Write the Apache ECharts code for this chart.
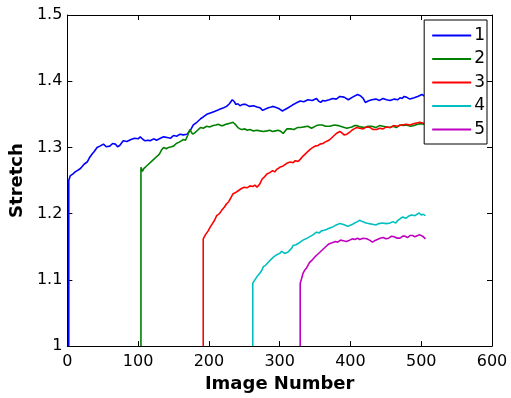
<!DOCTYPE html>
<html>
<head>
<meta charset="utf-8">
<script src="https://cdn.jsdelivr.net/npm/echarts@6/dist/echarts.min.js"></script>
<style>
html,body{margin:0;padding:0;background:#fff;}
#chart{width:511px;height:398px;}
</style>
</head>
<body>
<div id="chart"></div>
<script>
var seriesNames = ['1', '2', '3', '4', '5'];
var seriesColors = ['#0000ff', '#008000', '#ff0000', '#00bfbf', '#bf00bf'];
var xTicks = [0, 100, 200, 300, 400, 500, 600];
var yTicks = [1, 1.1, 1.2, 1.3, 1.4, 1.5];

var s1x = [2,2,4,8,11,14,17,20,24,28,31,35,38,42,46,51,55,60,64,68,71,74,79,84,90,95,100,103,107,110,114,117,122,126,130,136,141,146,150,155,159,164,169,174,178,183,188,192,197,202,207,212,216,221,225,229,233,236,238,241,244,248,252,257,263,268,272,276,280,284,288,291,296,300,304,307,312,318,323,329,334,340,346,352,355,358,361,364,370,375,380,385,391,397,403,410,414,418,421,425,430,436,441,446,451,456,462,467,470,473,476,479,484,490,495,501,505];
var s1y = [1,1.25,1.257,1.26,1.263,1.265,1.267,1.27,1.275,1.278,1.284,1.29,1.294,1.30,1.302,1.305,1.301,1.302,1.306,1.305,1.301,1.303,1.31,1.309,1.312,1.314,1.313,1.316,1.312,1.31,1.311,1.31,1.313,1.311,1.313,1.316,1.315,1.314,1.318,1.317,1.32,1.319,1.32,1.326,1.334,1.338,1.343,1.346,1.35,1.352,1.354,1.356,1.358,1.36,1.362,1.366,1.372,1.369,1.365,1.366,1.363,1.365,1.365,1.362,1.363,1.361,1.36,1.356,1.358,1.36,1.361,1.362,1.36,1.358,1.355,1.357,1.36,1.364,1.367,1.37,1.369,1.372,1.371,1.374,1.37,1.368,1.371,1.37,1.372,1.374,1.373,1.377,1.376,1.372,1.376,1.38,1.378,1.374,1.368,1.37,1.372,1.373,1.371,1.374,1.372,1.371,1.373,1.372,1.375,1.374,1.377,1.376,1.373,1.375,1.377,1.38,1.377];

var s2x = [104,104,106,108,112,115,119,122,126,130,133,136,140,143,147,150,154,158,161,164,167,170,173,175,177,180,184,188,192,197,201,206,210,213,217,220,224,228,231,234,236,238,241,244,247,251,254,258,263,268,272,277,282,286,290,294,298,302,305,307,310,315,320,325,329,334,340,345,352,356,360,365,371,377,383,389,395,399,402,406,409,414,420,425,430,436,441,446,451,456,460,465,470,475,479,485,490,495,500,505];
var s2y = [1,1.27,1.264,1.268,1.272,1.275,1.279,1.282,1.286,1.29,1.296,1.30,1.298,1.30,1.301,1.302,1.306,1.308,1.31,1.312,1.311,1.318,1.327,1.324,1.32,1.322,1.326,1.33,1.329,1.332,1.331,1.333,1.334,1.335,1.333,1.333,1.335,1.336,1.337,1.338,1.336,1.334,1.33,1.328,1.327,1.328,1.326,1.327,1.325,1.326,1.325,1.324,1.325,1.326,1.324,1.325,1.326,1.324,1.321,1.324,1.328,1.328,1.327,1.33,1.33,1.331,1.332,1.329,1.333,1.334,1.334,1.332,1.332,1.334,1.333,1.331,1.329,1.33,1.331,1.333,1.333,1.331,1.33,1.332,1.332,1.33,1.333,1.332,1.331,1.33,1.332,1.33,1.334,1.333,1.334,1.332,1.333,1.335,1.336,1.335];

var s3x = [192,192,195,199,202,205,208,211,215,218,222,225,228,230,234,238,242,246,250,254,258,262,265,268,272,275,279,282,286,290,293,296,300,305,310,315,319,322,326,329,333,336,340,343,347,350,354,357,361,364,368,371,374,377,380,382,385,388,391,395,399,402,405,409,413,418,423,428,432,437,441,446,451,456,461,466,472,479,484,490,494,498,502,505];
var s3y = [1,1.162,1.168,1.174,1.18,1.185,1.19,1.197,1.2,1.205,1.21,1.215,1.218,1.222,1.23,1.232,1.235,1.238,1.24,1.239,1.242,1.241,1.243,1.24,1.245,1.252,1.256,1.26,1.262,1.265,1.263,1.267,1.27,1.272,1.276,1.278,1.277,1.28,1.279,1.282,1.287,1.29,1.294,1.297,1.3,1.302,1.303,1.305,1.306,1.308,1.31,1.312,1.315,1.318,1.321,1.323,1.324,1.322,1.319,1.32,1.323,1.326,1.328,1.33,1.329,1.328,1.331,1.33,1.327,1.327,1.329,1.328,1.331,1.33,1.333,1.332,1.334,1.335,1.334,1.336,1.337,1.338,1.337,1.335];

var s4x = [262,262,265,268,272,275,277,280,282,286,289,292,296,300,303,305,307,309,312,314,317,319,323,326,329,333,337,342,347,352,356,359,363,366,370,375,380,385,389,392,396,399,403,406,410,413,417,422,426,431,436,440,445,451,456,460,464,467,471,474,478,482,486,488,491,493,497,500,503,506];
var s4y = [1,1.095,1.1,1.105,1.11,1.115,1.12,1.122,1.125,1.129,1.132,1.135,1.138,1.14,1.143,1.143,1.14,1.137,1.142,1.145,1.148,1.152,1.153,1.155,1.157,1.16,1.162,1.165,1.168,1.172,1.171,1.174,1.175,1.176,1.178,1.18,1.183,1.185,1.184,1.183,1.181,1.182,1.184,1.186,1.188,1.19,1.188,1.186,1.185,1.184,1.183,1.185,1.186,1.185,1.186,1.188,1.186,1.19,1.193,1.195,1.193,1.196,1.198,1.2,1.197,1.2,1.201,1.198,1.199,1.197];

var s5x = [329,329,331,333,335,338,340,342,345,347,350,353,356,359,362,365,368,371,374,376,379,382,386,390,394,399,403,406,410,413,418,423,427,431,434,438,442,446,450,454,458,462,466,470,474,477,481,484,488,491,495,498,502,506];
var s5y = [1,1.095,1.102,1.11,1.114,1.118,1.122,1.126,1.129,1.132,1.135,1.138,1.141,1.144,1.147,1.15,1.153,1.155,1.156,1.157,1.158,1.157,1.16,1.159,1.158,1.16,1.162,1.161,1.163,1.161,1.163,1.162,1.16,1.157,1.159,1.161,1.163,1.164,1.162,1.163,1.166,1.165,1.163,1.163,1.166,1.166,1.164,1.167,1.167,1.165,1.167,1.168,1.166,1.162];

var allX = [s1x, s2x, s3x, s4x, s5x];
var allY = [s1y, s2y, s3y, s4y, s5y];

function zip(xs, ys) {
  var out = [];
  for (var i = 0; i < xs.length; i++) out.push([xs[i], ys[i]]);
  return out;
}

var FONT = 'DejaVu Sans';
var series = seriesNames.map(function (n, i) {
  return {
    name: n,
    type: 'line',
    data: zip(allX[i], allY[i]),
    symbol: 'none',
    showSymbol: false,
    animation: false,
    lineStyle: { color: seriesColors[i], width: 1.6 },
    itemStyle: { color: seriesColors[i] },
    z: 2
  };
});

var axisBase = {
  type: 'value',
  axisLine: { show: true, onZero: false, lineStyle: { color: '#000', width: 1 } },
  axisTick: { show: true, inside: true, length: 5, lineStyle: { color: '#000', width: 1 } },
  splitLine: { show: false }
};

var chart = echarts.init(document.getElementById('chart'), null, { renderer: 'canvas' });
chart.setOption({
  backgroundColor: '#fff',
  animation: false,
  grid: { left: 67, right: 19, top: 15, bottom: 50, containLabel: false },
  legend: {
    data: seriesNames,
    orient: 'vertical',
    right: 24,
    top: 20,
    icon: 'rect',
    itemWidth: 39,
    itemHeight: 2,
    itemGap: 6.5,
    padding: [7, 2, 6, 8],
    backgroundColor: '#fff',
    borderColor: '#000',
    borderWidth: 1,
    textStyle: { fontFamily: FONT, fontSize: 17, color: '#000', lineHeight: 14, padding: [0, 0, 0, -2] }
  },
  xAxis: [
    Object.assign({}, axisBase, {
      position: 'bottom', min: xTicks[0], max: xTicks[xTicks.length - 1], interval: xTicks[1] - xTicks[0],
      name: 'Image Number', nameLocation: 'middle', nameGap: 27,
      nameTextStyle: { fontFamily: FONT, fontSize: 18, fontWeight: 'bold', color: '#000' },
      axisLabel: { fontFamily: FONT, fontSize: 16, color: '#000', margin: 8 }
    }),
    Object.assign({}, axisBase, {
      position: 'top', min: xTicks[0], max: xTicks[xTicks.length - 1], interval: xTicks[1] - xTicks[0],
      axisLabel: { show: false }
    })
  ],
  yAxis: [
    Object.assign({}, axisBase, {
      position: 'left', min: yTicks[0], max: yTicks[yTicks.length - 1], interval: 0.1,
      name: 'Stretch', nameLocation: 'middle', nameGap: 35,
      nameTextStyle: { fontFamily: FONT, fontSize: 18, fontWeight: 'bold', color: '#000' },
      axisLabel: { fontFamily: FONT, fontSize: 16, color: '#000', margin: 5,
        formatter: function (v) { return String(Math.round(v * 10) / 10); } }
    }),
    Object.assign({}, axisBase, {
      position: 'right', min: yTicks[0], max: yTicks[yTicks.length - 1], interval: 0.1,
      axisLabel: { show: false }
    })
  ],
  series: series
});
</script>
</body>
</html>
